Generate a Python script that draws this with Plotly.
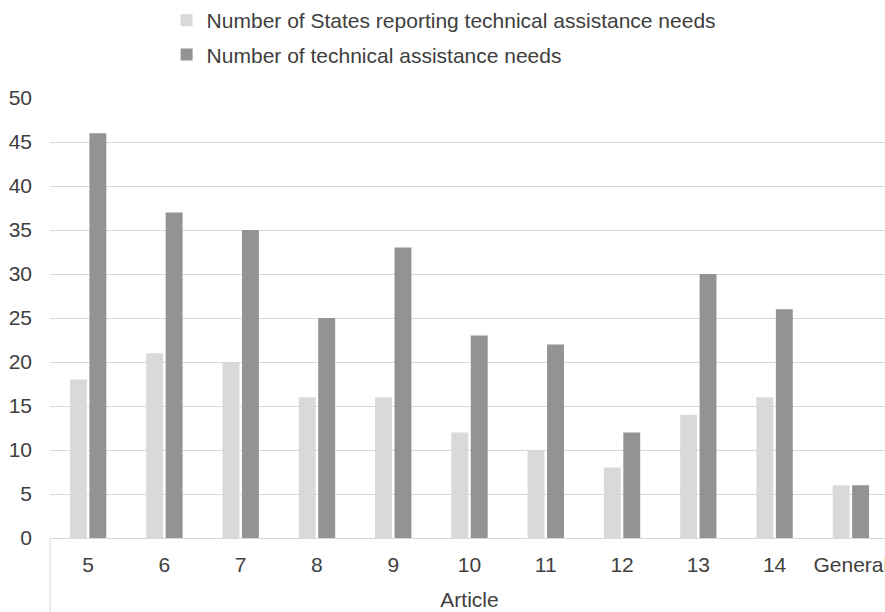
import plotly.graph_objects as go

# Article categories and counts
articles = ["5", "6", "7", "8", "9", "10", "11", "12", "13", "14", "General"]
states_reporting = [18, 21, 20, 16, 16, 12, 10, 8, 14, 16, 6]
assistance_needs = [46, 37, 35, 25, 33, 23, 22, 12, 30, 26, 6]
y_ticks = [0, 5, 10, 15, 20, 25, 30, 35, 40, 45, 50]

FONT = "Liberation Sans, Arial, sans-serif"
TEXT = "#404040"
GRID = "#d9d9d9"
FS = 21

fig = go.Figure()
fig.add_trace(go.Bar(
    x=articles, y=states_reporting,
    name="Number of States reporting technical assistance needs",
    marker=dict(color="#d9d9d9", line=dict(width=0)),
    legendgroup="a",
))
fig.add_trace(go.Bar(
    x=articles, y=assistance_needs,
    name="Number of technical assistance needs",
    marker=dict(color="#939393", line=dict(width=0)),
    legendgroup="b",
))

fig.update_layout(
    width=900, height=612,
    margin=dict(l=50, r=11, t=98, b=74, autoexpand=False),
    paper_bgcolor="white", plot_bgcolor="white",
    font=dict(family=FONT, size=FS, color=TEXT),
    barmode="group", bargap=0.49, bargroupgap=0.13,
    legend=dict(
        orientation="v", x=0.139, xanchor="left",
        yref="container", y=1.003, yanchor="top",
        font=dict(size=FS, color=TEXT), tracegroupgap=4,
        itemwidth=30, bgcolor="rgba(0,0,0,0)",
    ),
    showlegend=True,
)
fig.update_xaxes(
    type="category", automargin=False,
    showline=True, linecolor=GRID, linewidth=1,
    showgrid=False, ticks="", ticklabelstandoff=8, tickangle=0,
    tickfont=dict(size=FS, color=TEXT),
    title=dict(text="Article", standoff=17, font=dict(size=FS, color=TEXT)),
)
fig.update_yaxes(
    range=[0, 50], tickvals=y_ticks, automargin=False,
    showgrid=True, gridcolor=GRID, gridwidth=1,
    zeroline=False, showline=False, ticks="",
    ticklabelstandoff=17,
    tickfont=dict(size=FS, color=TEXT),
)

# Left edge divider of the category label band
fig.add_shape(type="line", xref="paper", yref="paper",
              x0=0, x1=0, y0=0, y1=-0.2,
              line=dict(color=GRID, width=1))

fig.write_html("out.html", post_script="document.body.style.overflow='hidden';document.body.style.margin='0';")
